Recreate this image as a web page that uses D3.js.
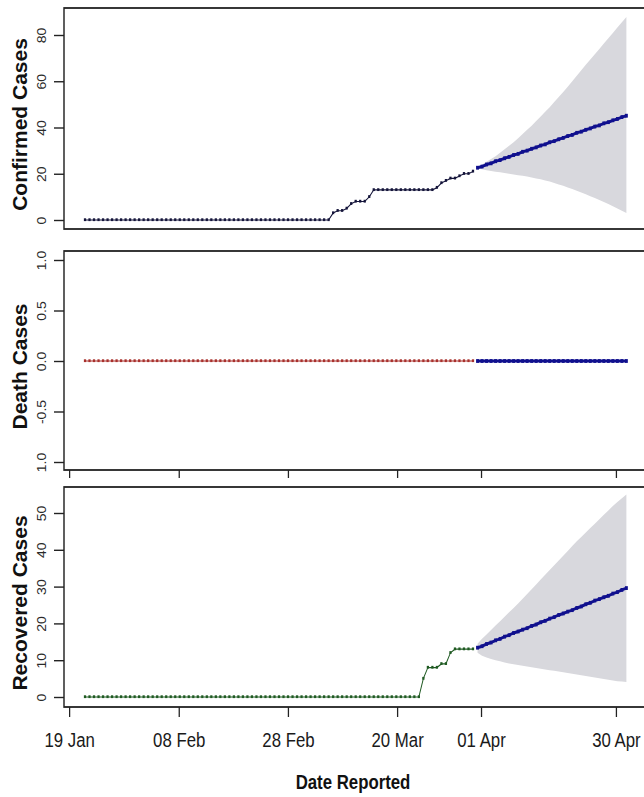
<!DOCTYPE html>
<html>
<head>
<meta charset="utf-8">
<script src="https://cdn.jsdelivr.net/npm/d3@7"></script>
<style>
  body { margin: 0; background: #fff; }
  svg { display: block; }
</style>
</head>
<body>
<div id="chart"></div>
<script>
// x axis: observation index, forecast starts right after the last observation
const FORECAST_START = 87;
const dateLabels = ["19 Jan", "08 Feb", "28 Feb", "20 Mar", "01 Apr", "30 Apr"];
const dateTickIndex = [-3.5, 20.8, 45, 69.2, 87.8, 117.7];

// observed series
const confirmedObs = [
    0, 0, 0, 0, 0, 0, 0, 0, 0, 0, 0, 0, 0, 0, 0,
    0, 0, 0, 0, 0, 0, 0, 0, 0, 0, 0, 0, 0, 0, 0,
    0, 0, 0, 0, 0, 0, 0, 0, 0, 0, 0, 0, 0, 0, 0,
    0, 0, 0, 0, 0, 0, 0, 0, 0, 0,
    3, 4, 4, 5, 7, 8, 8, 8, 10, 13,
    13, 13, 13, 13, 13, 13, 13, 13, 13, 13, 13, 13, 13,
    14, 16, 17, 18, 18, 19, 20, 20, 21
];
const deathsObs = [
    0, 0, 0, 0, 0, 0, 0, 0, 0, 0, 0, 0, 0, 0, 0,
    0, 0, 0, 0, 0, 0, 0, 0, 0, 0, 0, 0, 0, 0, 0,
    0, 0, 0, 0, 0, 0, 0, 0, 0, 0, 0, 0, 0, 0, 0,
    0, 0, 0, 0, 0, 0, 0, 0, 0, 0, 0, 0, 0, 0, 0,
    0, 0, 0, 0, 0, 0, 0, 0, 0, 0, 0, 0, 0, 0, 0,
    0, 0, 0, 0, 0, 0, 0, 0, 0, 0, 0, 0
];
const recoveredObs = [
    0, 0, 0, 0, 0, 0, 0, 0, 0, 0, 0, 0, 0, 0, 0,
    0, 0, 0, 0, 0, 0, 0, 0, 0, 0, 0, 0, 0, 0, 0,
    0, 0, 0, 0, 0, 0, 0, 0, 0, 0, 0, 0, 0, 0, 0,
    0, 0, 0, 0, 0, 0, 0, 0, 0, 0, 0, 0, 0, 0, 0,
    0, 0, 0, 0, 0, 0, 0, 0, 0, 0, 0, 0, 0, 0, 0,
    5, 8, 8, 8, 9, 9, 12, 13, 13, 13, 13, 13
];

// forecasts with lower / upper bounds
const confirmedFc = [
    22.6, 23.1, 24.0, 24.5, 25.4, 25.9, 26.7, 27.3, 28.1, 28.6,
    29.5, 30.0, 30.8, 31.4, 32.2, 32.7, 33.6, 34.1, 34.9, 35.5,
    36.3, 36.8, 37.7, 38.2, 39.0, 39.6, 40.4, 40.9, 41.8, 42.3,
    43.1, 43.7, 44.5, 45.1
];
const confirmedLo = [
    22.4, 21.9, 21.5, 21.2, 20.9, 20.6, 20.3, 20.0, 19.7, 19.4,
    19.1, 18.8, 18.4, 18.0, 17.6, 17.1, 16.6, 16.0, 15.4, 14.8,
    14.1, 13.4, 12.7, 11.9, 11.1, 10.3, 9.5, 8.7, 7.8, 6.9,
    6.0, 5.0, 4.0, 3.0
];
const confirmedHi = [
    22.8, 24.0, 25.2, 26.4, 27.6, 29.1, 30.6, 32.1, 33.6, 35.4,
    37.2, 39.0, 40.8, 42.8, 44.8, 46.8, 48.8, 51.0, 53.2, 55.4,
    57.6, 60.0, 62.4, 64.8, 67.1, 69.4, 71.7, 74.0, 76.3, 78.6,
    80.9, 83.2, 85.5, 87.8
];
const deathsFc = [
    0, 0, 0, 0, 0, 0, 0, 0, 0, 0,
    0, 0, 0, 0, 0, 0, 0, 0, 0, 0,
    0, 0, 0, 0, 0, 0, 0, 0, 0, 0,
    0, 0, 0, 0
];
const recoveredFc = [
    13.4, 13.8, 14.4, 14.8, 15.4, 15.8, 16.4, 16.8, 17.4, 17.8,
    18.3, 18.7, 19.3, 19.7, 20.3, 20.7, 21.3, 21.7, 22.3, 22.7,
    23.2, 23.6, 24.2, 24.6, 25.2, 25.6, 26.2, 26.6, 27.1, 27.5,
    28.1, 28.5, 29.1, 29.6
];
const recoveredLo = [
    12.0, 11.2, 10.7, 10.3, 10.0, 9.7, 9.4, 9.1, 8.9, 8.7,
    8.5, 8.3, 8.1, 7.9, 7.7, 7.5, 7.3, 7.1, 6.9, 6.7,
    6.5, 6.3, 6.1, 5.9, 5.7, 5.5, 5.3, 5.1, 4.9, 4.7,
    4.5, 4.3, 4.2, 4.1
];
const recoveredHi = [
    14.5, 15.8, 17.0, 18.2, 19.4, 20.6, 21.8, 23.0, 24.2, 25.4,
    26.7, 28.0, 29.3, 30.6, 31.9, 33.2, 34.5, 35.8, 37.1, 38.4,
    39.7, 41.0, 42.3, 43.5, 44.7, 45.9, 47.1, 48.3, 49.5, 50.7,
    51.9, 53.0, 54.0, 55.0
];

// y tick values / labels
const confirmedTicks = [0, 20, 40, 60, 80];
const confirmedTickLabels = ["0", "20", "40", "60", "80"];
const deathsTicks = [-1, -0.5, 0, 0.5, 1];
const deathsTickLabels = ["1.0", "-0.5", "0.0", "0.5", "1.0"];
const recoveredTicks = [0, 10, 20, 30, 40, 50];
const recoveredTickLabels = ["0", "10", "20", "30", "40", "50"];

const W = 644, H = 797;
const SX = 0.8;               // the original image is squeezed horizontally
const vx = px => px / SX;
const FONT = '"Liberation Sans", Arial, sans-serif';

const svg = d3.select("#chart").append("svg")
    .attr("width", W)
    .attr("height", H);
const root = svg.append("g").attr("transform", `scale(${SX},1)`);

const frameLeft = vx(64), frameRight = vx(648);
const x = d3.scaleLinear().domain([0, 86]).range([vx(85), vx(473)]);

const panels = [
    { title: "Confirmed Cases", top: 8, bottom: 229, domain: [0, 80], range: [220, 35],
      ticks: confirmedTicks, labels: confirmedTickLabels,
      obs: confirmedObs, fc: confirmedFc, lo: confirmedLo, hi: confirmedHi,
      obsColor: "#14143a", xAxis: "none" },
    { title: "Death Cases", top: 251, bottom: 470, domain: [-1, 1], range: [462, 260],
      ticks: deathsTicks, labels: deathsTickLabels,
      obs: deathsObs, fc: deathsFc, lo: null, hi: null,
      obsColor: "#a8302c", xAxis: "ticks" },
    { title: "Recovered Cases", top: 487, bottom: 707, domain: [0, 50], range: [697, 513],
      ticks: recoveredTicks, labels: recoveredTickLabels,
      obs: recoveredObs, fc: recoveredFc, lo: recoveredLo, hi: recoveredHi,
      obsColor: "#1f5a22", xAxis: "labels" }
];

panels.forEach(p => {
    const y = d3.scaleLinear().domain(p.domain).range(p.range);
    const g = root.append("g");
    const fx = (d, i) => x(FORECAST_START + i);

    // prediction band
    if (p.lo) {
        g.append("path")
            .datum(p.lo.map((lo, i) => ({ lo, hi: p.hi[i] })))
            .attr("fill", "#d8d8dd")
            .attr("d", d3.area()
                .x(fx)
                .y0(d => y(d.lo))
                .y1(d => y(d.hi)));
    }

    // observed
    g.append("path")
        .datum(p.obs)
        .attr("fill", "none")
        .attr("stroke", p.obsColor)
        .attr("stroke-width", 1.2)
        .attr("d", d3.line().x((d, i) => x(i)).y(d => y(d)));

    g.selectAll(".obs-pt")
        .data(p.obs)
        .enter().append("rect")
        .attr("class", "obs-pt")
        .attr("x", (d, i) => x(i) - 1.4)
        .attr("y", d => y(d) - 1.7)
        .attr("width", 2.8)
        .attr("height", 2.8)
        .attr("fill", p.obsColor);

    // forecast
    g.append("path")
        .datum(p.fc)
        .attr("fill", "none")
        .attr("stroke", "#10108e")
        .attr("stroke-width", 3)
        .attr("d", d3.line().x(fx).y(d => y(d)));

    g.selectAll(".fc-pt")
        .data(p.fc)
        .enter().append("rect")
        .attr("class", "fc-pt")
        .attr("x", (d, i) => fx(d, i) - 1.8)
        .attr("y", d => y(d) - 1.9)
        .attr("width", 3.6)
        .attr("height", 3.8)
        .attr("fill", "#10108e");

    // frame
    g.append("rect")
        .attr("x", frameLeft)
        .attr("y", p.top)
        .attr("width", frameRight - frameLeft)
        .attr("height", p.bottom - p.top)
        .attr("fill", "none")
        .attr("stroke", "#222")
        .attr("stroke-width", 1.8);

    // y axis
    const gy = g.append("g")
        .attr("transform", `translate(${frameLeft},0)`)
        .call(d3.axisLeft(y)
            .tickValues(p.ticks)
            .tickSize(vx(10))
            .tickFormat((d, i) => p.labels[i]));
    gy.select(".domain").remove();
    gy.selectAll(".tick line").attr("stroke", "#222").attr("stroke-width", 1.4);
    gy.selectAll(".tick text")
        .attr("x", null)
        .attr("dy", null)
        .attr("transform", `translate(${vx(46) - frameLeft},0) rotate(-90) scale(1,1.1)`)
        .attr("text-anchor", "middle")
        .attr("font-family", FONT)
        .attr("font-size", 14)
        .attr("fill", "#2a2a2a");

    // y title (not squeezed in the original)
    g.append("text")
        .attr("transform", `translate(${vx(27)},${(p.top + p.bottom) / 2 + 6}) rotate(-90) scale(1,${1 / SX})`)
        .attr("text-anchor", "middle")
        .attr("font-family", FONT)
        .attr("font-weight", "bold")
        .attr("font-size", 21)
        .attr("fill", "#111")
        .text(p.title);

    // x axis
    if (p.xAxis !== "none") {
        const gx = g.append("g")
            .attr("transform", `translate(0,${p.bottom})`)
            .call(d3.axisBottom(x)
                .tickValues(dateTickIndex)
                .tickSize(p.xAxis === "labels" ? 10 : 8)
                .tickFormat((d, i) => p.xAxis === "labels" ? dateLabels[i] : ""));
        gx.select(".domain").remove();
        gx.selectAll(".tick line").attr("stroke", "#222").attr("stroke-width", 1.6);
        gx.selectAll(".tick text")
            .attr("y", 40)
            .attr("dy", null)
            .attr("font-family", FONT)
            .attr("font-size", 21)
            .attr("fill", "#1a1a1a");
    }
});

// x title
root.append("text")
    .attr("x", vx(353))
    .attr("y", 789)
    .attr("text-anchor", "middle")
    .attr("font-family", FONT)
    .attr("font-weight", "bold")
    .attr("font-size", 21)
    .attr("fill", "#111")
    .text("Date Reported");
</script>
</body>
</html>
